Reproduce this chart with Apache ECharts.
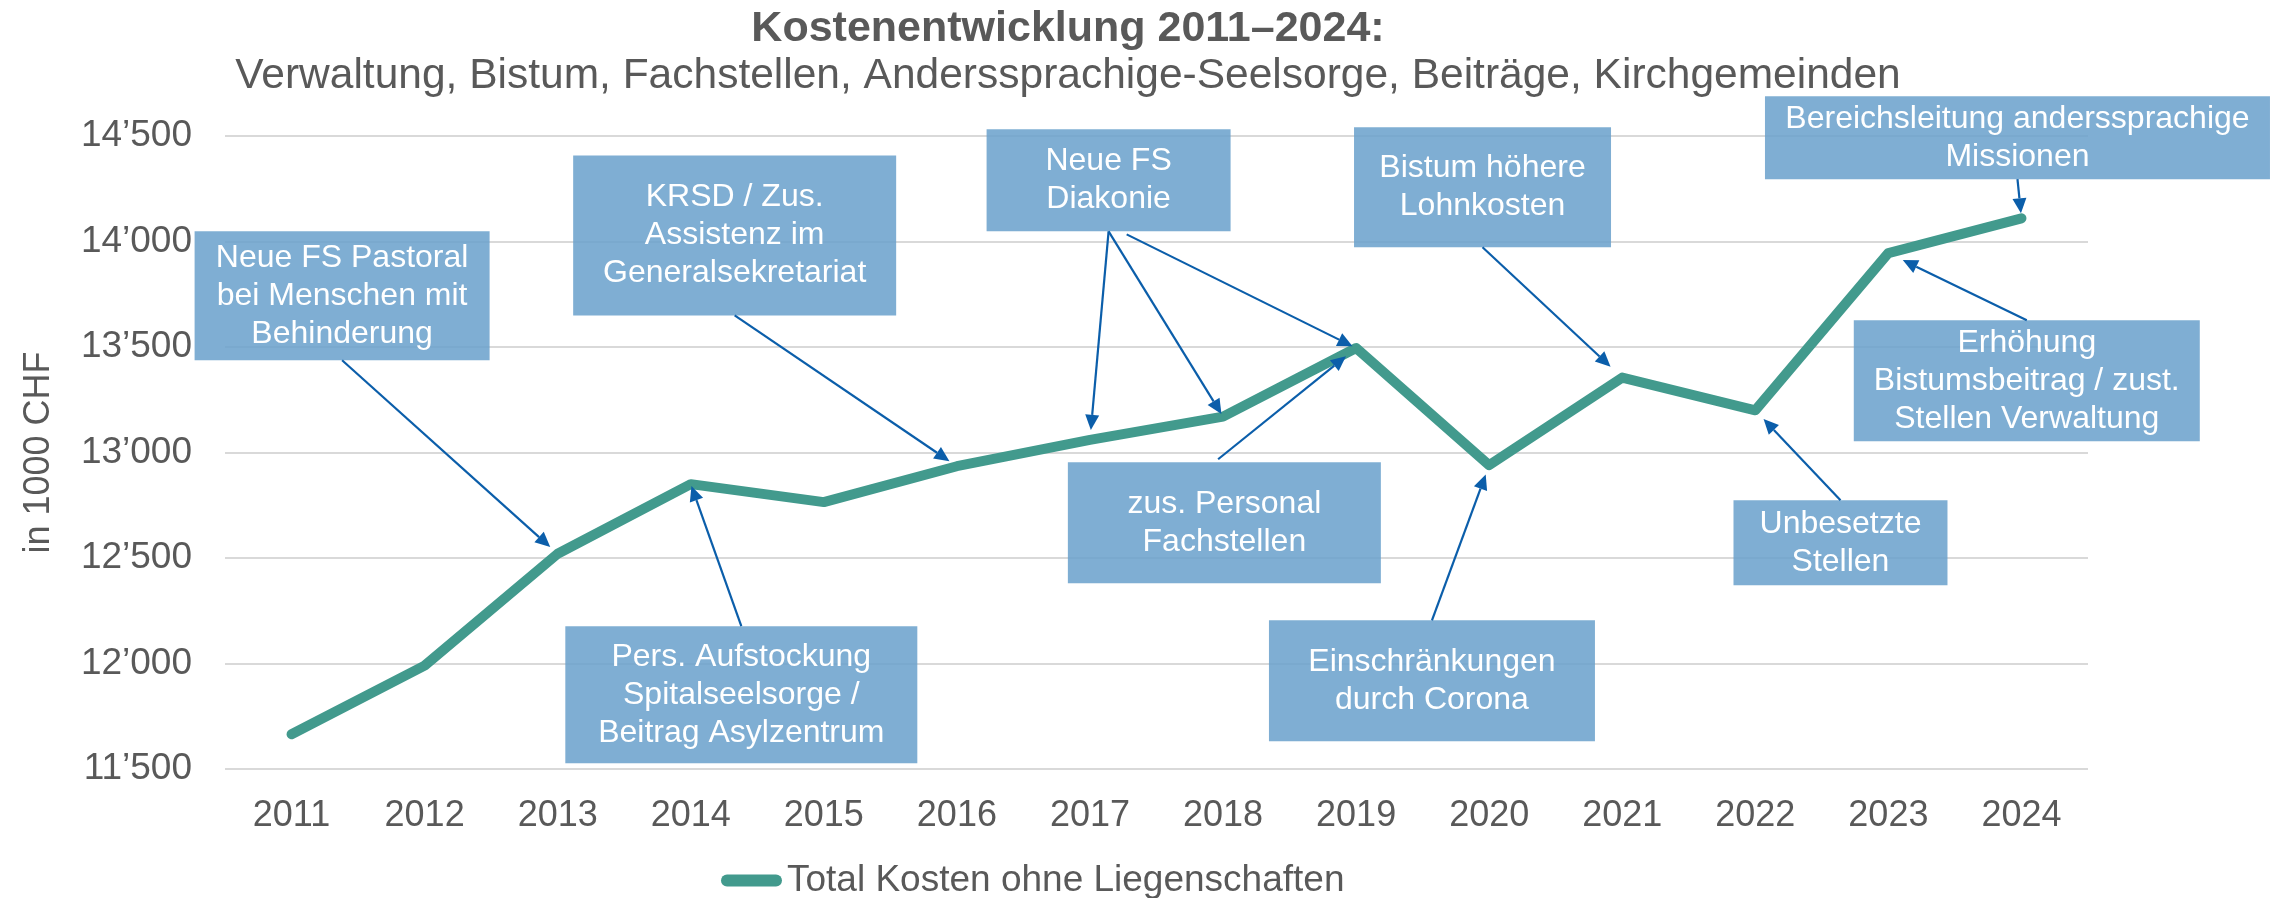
<!DOCTYPE html>
<html><head><meta charset="utf-8">
<script src="https://cdn.jsdelivr.net/npm/echarts@6/dist/echarts.min.js"></script>
<style>html,body{margin:0;padding:0;background:#fff}#c{width:2271px;height:898px}</style>
</head><body><div id="c"></div>
<script>
// ---------- DATA ----------
const categories = ['2011','2012','2013','2014','2015','2016','2017','2018','2019','2020','2021','2022','2023','2024'];
const totalCosts = [11665, 11990, 12520, 12850, 12765, 12935, 13060, 13170, 13495, 12940, 13355, 13200, 13945, 14110];
const seriesName = 'Total Kosten ohne Liegenschaften';
const yMin = 11500, yMax = 14500, yStep = 500;
const titleText = 'Kostenentwicklung 2011–2024:';
const subtitleText = 'Verwaltung, Bistum, Fachstellen, Anderssprachige-Seelsorge, Beiträge, Kirchgemeinden';
const yAxisName = 'in 1000 CHF';

// annotation texts
const noteTexts = [
  ['Neue FS Pastoral', 'bei Menschen mit', 'Behinderung'],
  ['KRSD / Zus.', 'Assistenz im', 'Generalsekretariat'],
  ['Pers. Aufstockung', 'Spitalseelsorge /', 'Beitrag Asylzentrum'],
  ['Neue FS', 'Diakonie'],
  ['zus. Personal', 'Fachstellen'],
  ['Bistum höhere', 'Lohnkosten'],
  ['Einschränkungen', 'durch Corona'],
  ['Bereichsleitung anderssprachige', 'Missionen'],
  ['Erhöhung', 'Bistumsbeitrag / zust.', 'Stellen Verwaltung'],
  ['Unbesetzte', 'Stellen']
];
// which year each arrow of a note points to (index into categories)
const noteTargets = [[2], [5], [3], [6, 7, 8], [8], [10], [9], [13], [12], [11]];

// ---------- LAYOUT / STYLE (annotation placement in data space) ----------
const noteLayout = [
  {at: [0.38, 13743], size: [295, 129], arrows: [{s: [0.5, 1], gap: 10}]},
  {at: [3.33, 14029], size: [323, 160], arrows: [{s: [0.5, 1], gap: 9}]},
  {at: [3.38, 11852], size: [352, 137], arrows: [{s: [0.5, 0], gap: 2}]},
  {at: [6.14, 14290], size: [244, 102], arrows: [{s: [0.5, 1], gap: 10}, {s: [0.5, 1], gap: 3}, {s: [0.574, 1.03], gap: 4}]},
  {at: [7.01, 12667], size: [313, 121], arrows: [{s: [0.48, -0.025], gap: 13}]},
  {at: [8.95, 14257], size: [257, 120], arrows: [{s: [0.5, 1], gap: 16}]},
  {at: [8.57, 11918], size: [326, 121], arrows: [{s: [0.5, 0], gap: 10}]},
  {at: [12.97, 14492], size: [505, 83], arrows: [{s: [0.5, 1], gap: 5}]},
  {at: [13.04, 13340], size: [346, 121], arrows: [{s: [0.5, 0], gap: 16}]},
  {at: [11.64, 12572], size: [214, 85], arrows: [{s: [0.5, 0], gap: 12}]}
];

const FONT = '"Liberation Sans", Arial, sans-serif';
const GREY = '#595959';
const LINE_COLOR = '#429A8D';
const ARROW_COLOR = '#0B5EAA';
const BOX_COLOR = 'rgba(104,160,203,0.85)';

const fmt = v => String(v).replace(/\B(?=(\d{3})+(?!\d))/g, '\u2019');

const chart = echarts.init(document.getElementById('c'), null, {renderer: 'canvas'});
chart.setOption({
  animation: false,
  backgroundColor: '#fff',
  textStyle: {fontFamily: FONT},
  title: {
    text: titleText, subtext: subtitleText,
    left: 1068, top: 8, textAlign: 'center', padding: 0, itemGap: 4,
    textStyle: {fontSize: 43, fontWeight: 'bold', color: GREY, fontFamily: FONT},
    subtextStyle: {fontSize: 42.5, color: GREY, fontFamily: FONT}
  },
  grid: {left: 225, right: 183, top: 136, bottom: 129, containLabel: false},
  legend: {
    left: 721, top: 862, padding: 0,
    itemWidth: 61, itemHeight: 12,
    itemStyle: {color: LINE_COLOR, borderWidth: 0},
    textStyle: {fontSize: 37, color: GREY, fontFamily: FONT},
    data: [{name: seriesName, icon: 'path://M6,0 L55,0 A6,6 0 0 1 55,12 L6,12 A6,6 0 0 1 6,0 Z'}]
  },
  xAxis: {
    type: 'category', data: categories, boundaryGap: true,
    axisLine: {show: false}, axisTick: {show: false},
    axisLabel: {fontSize: 36, color: GREY, margin: 29, fontFamily: FONT}
  },
  yAxis: {
    type: 'value', min: yMin, max: yMax, interval: yStep,
    name: yAxisName, nameLocation: 'middle', nameGap: 168, nameRotate: 90,
    nameTextStyle: {fontSize: 36, color: GREY, fontFamily: FONT},
    axisLine: {show: false}, axisTick: {show: false},
    axisLabel: {fontSize: 37, color: GREY, margin: 33, formatter: fmt, fontFamily: FONT},
    splitLine: {lineStyle: {color: '#D9D9D9', width: 2}}
  },
  series: [{
    name: seriesName, type: 'line', data: totalCosts,
    symbol: 'none', smooth: false,
    lineStyle: {width: 10, color: LINE_COLOR, cap: 'round', join: 'round'},
    itemStyle: {color: LINE_COLOR}, z: 3
  }]
});

// ---------- annotations, positioned through the chart's own scales ----------
function xPix(f) {
  const a = chart.convertToPixel({xAxisIndex: 0}, 0);
  const b = chart.convertToPixel({xAxisIndex: 0}, 1);
  return a + (b - a) * f;
}
function yPix(v) { return chart.convertToPixel({yAxisIndex: 0}, v); }

const graphics = [];
noteLayout.forEach((n, k) => {
  const cx = xPix(n.at[0]), cy = yPix(n.at[1]);
  const w = n.size[0], h = n.size[1];
  const x1 = cx - w / 2, y1 = cy - h / 2;
  graphics.push({type: 'rect', shape: {x: x1, y: y1, width: w, height: h}, style: {fill: BOX_COLOR}, z: 20, silent: true});
  graphics.push({type: 'text', x: cx, y: cy, z: 21, silent: true,
    style: {text: noteTexts[k].join('\n'), fill: '#fff', font: '32px ' + FONT, align: 'center', verticalAlign: 'middle', lineHeight: 38}});
  n.arrows.forEach((a, j) => {
    const t = noteTargets[k][j];
    const p = chart.convertToPixel({seriesIndex: 0}, [t, totalCosts[t]]);
    const sx = x1 + a.s[0] * w, sy = y1 + a.s[1] * h;
    const dx = p[0] - sx, dy = p[1] - sy, L = Math.hypot(dx, dy);
    const ux = dx / L, uy = dy / L;
    const tx = p[0] - ux * a.gap, ty = p[1] - uy * a.gap;
    const bx = tx - ux * 15, by = ty - uy * 15;
    const nx = -uy * 7, ny = ux * 7;
    graphics.push({type: 'line', z: 22, silent: true, shape: {x1: sx, y1: sy, x2: bx, y2: by}, style: {stroke: ARROW_COLOR, lineWidth: 2.2}});
    graphics.push({type: 'polygon', z: 22, silent: true, shape: {points: [[tx, ty], [bx + nx, by + ny], [bx - nx, by - ny]]}, style: {fill: ARROW_COLOR}});
  });
});
chart.setOption({graphic: {elements: graphics}});
</script></body></html>
